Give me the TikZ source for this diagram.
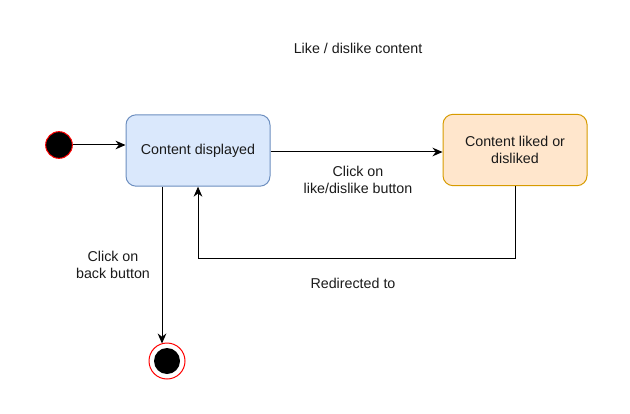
\documentclass[tikz,border=0pt]{standalone}
\usepackage{fontspec}
\setmainfont{Liberation Sans}
\usetikzlibrary{arrows.meta,calc}
\definecolor{bluefill}{HTML}{DAE8FC}
\definecolor{blueline}{HTML}{6C8EBF}
\definecolor{orangefill}{HTML}{FFE6CC}
\definecolor{orangeline}{HTML}{D79B00}
\definecolor{txt}{HTML}{1A1A1A}
\begin{document}
\begin{tikzpicture}[x=0.75pt,y=-0.75pt,
  every node/.style={font=\fontsize{10.7}{12.2}\selectfont, text=txt},
  state/.style={draw, line width=0.75pt, rounded corners=7.5pt, minimum width=108pt, minimum height=53.5pt, align=center, inner sep=0pt},
  conn/.style={line width=0.75pt, -{Stealth[length=7.5pt,width=6.5pt,inset=2.4pt]}},
  lbl/.style={align=center, inner sep=0pt}]
\useasboundingbox (0,0) rectangle (630,413);
% title
\node[lbl] (title) at (358,48) {Like / dislike content};
% start
\node[circle, fill=black, draw=red, line width=0.75pt, minimum size=20pt, inner sep=0pt] (start) at (59,145) {};
% states
\node[state, fill=bluefill, draw=blueline] (cd) at (198,150.5) {Content displayed};
\node[state, fill=orangefill, draw=orangeline] (cl) at (515,150) {Content liked or\\disliked};
% end
\node[circle, draw=red, line width=0.75pt, minimum size=27pt, inner sep=0pt] (end) at (167,361) {};
\node[circle, fill=black, minimum size=19.5pt, inner sep=0pt] (endin) at (167,361) {};
\coordinate (ex) at (162,0);
\coordinate (rx) at (198,0);
\coordinate (ry) at (0,258);
% connectors
\draw[conn] (start.east) -- (start.east -| cd.west);
\draw[conn] (cd.east |- 0,152) -- (cl.west |- 0,152);
\draw[conn] (cd.south -| ex) -- ($(end.north -| ex)+(0,1)$);
\draw[conn] (cl.south) -- (cl.south |- ry) -- (ry -| rx) -- (cd.south -| rx);
% labels
\node[lbl] (l1) at (358,180) {Click on\\like/dislike button};
\node[lbl] (l2) at (113,265) {Click on\\back button};
\node[lbl] (l3) at (353,283) {Redirected to};
\end{tikzpicture}
\end{document}
